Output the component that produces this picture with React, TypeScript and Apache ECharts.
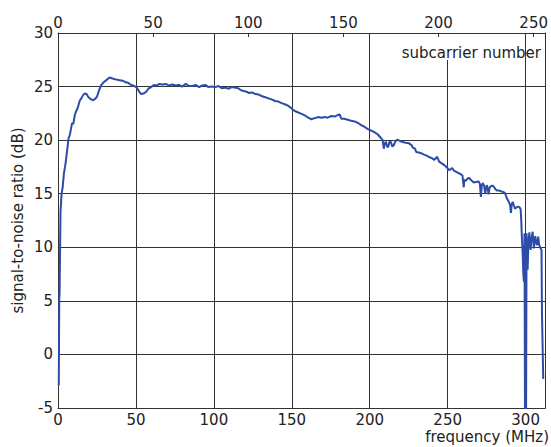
import React, { useEffect, useRef } from "react";
import * as echarts from "echarts";

// frequency (MHz) of each measured point
const freqMHz = [
  0.5, 0.8, 1.0, 1.6, 2.3, 3.0, 3.8, 4.5, 5.1, 6.0, 6.8, 7.6, 8.4, 9.0, 9.8, 10.8, 11.5, 12.6, 14.0, 15.0,
  16.1, 17.2, 18.3, 19.3, 20.8, 22.5, 23.8, 25.0, 26.0, 27.0, 27.8, 29.3, 31.0, 33.1, 35.0, 37.4, 39.5, 41.5, 43.5, 45.0,
  47.0, 49.0, 50.5, 52.0, 53.3, 54.8, 56.5, 58.0, 59.7, 61.5, 63.5, 65.0, 67.0, 69.2, 71.0, 73.4, 75.5, 77.7, 79.5, 82.0,
  84.0, 86.2, 88.5, 90.5, 92.5, 94.7, 96.5, 98.5, 101.0, 103.0, 105.0, 107.4, 109.5, 111.5, 113.8, 115.5, 117.0, 118.5, 120.5, 122.5,
  124.5, 126.6, 128.7, 131.0, 133.0, 135.0, 137.0, 139.3, 141.4, 143.5, 145.5, 147.8, 149.9, 151.0, 153.0, 156.2, 158.5, 160.5, 162.6, 164.5,
  166.9, 169.0, 171.1, 173.0, 175.4, 177.5, 179.6, 180.7, 181.7, 183.5, 186.0, 188.1, 190.3, 192.5, 194.5, 196.6, 198.5, 200.8, 203.0, 205.0,
  207.2, 208.3, 209.0, 209.6, 210.4, 211.2, 211.9, 212.8, 213.6, 214.5, 215.3, 216.5, 217.8, 219.0, 220.5, 223.1, 225.3, 227.0, 227.6, 229.0,
  229.8, 231.5, 233.5, 234.9, 236.5, 238.5, 240.1, 241.5, 243.3, 244.5, 246.0, 247.6, 249.5, 250.8, 252.0, 252.9, 254.0, 256.1, 258.0, 259.5,
  260.3, 260.7, 261.5, 262.4, 263.5, 264.5, 265.5, 266.7, 268.0, 269.9, 270.7, 271.3, 271.9, 272.6, 273.4, 274.1, 274.7, 275.2, 275.7, 276.2,
  276.8, 277.3, 278.3, 279.4, 280.5, 281.5, 283.0, 284.7, 285.8, 286.8, 287.9, 289.0, 290.0, 290.6, 291.1, 291.7, 292.5, 293.2, 294.3, 295.3,
  296.3, 296.8, 297.2, 297.5, 298.1, 298.5, 298.9, 299.3, 299.6, 300.0, 300.3, 300.6, 301.0, 301.3, 301.8, 302.4, 303.2, 303.8, 304.5, 305.3,
  306.2, 306.8, 307.4, 308.1, 308.6, 309.1, 310.2, 310.5, 311.3,
];

// signal-to-noise ratio (dB) at each frequency above
const snrDb = [
  -2.9, 5.3, 5.6, 13.3, 15.0, 15.6, 16.9, 17.5, 18.1, 19.2, 20.2, 20.5, 21.1, 21.6, 21.5, 22.35, 22.65, 23.0, 23.7, 23.9,
  24.2, 24.35, 24.3, 24.05, 23.85, 23.72, 23.85, 24.05, 24.5, 24.9, 25.15, 25.4, 25.6, 25.85, 25.75, 25.65, 25.6, 25.55, 25.4, 25.35,
  25.15, 25.05, 24.9, 24.55, 24.3, 24.35, 24.5, 24.8, 24.95, 25.15, 25.1, 25.25, 25.2, 25.25, 25.1, 25.2, 25.1, 25.15, 25.0, 25.25,
  25.05, 25.05, 25.15, 24.95, 25.1, 25.15, 24.95, 25.0, 24.95, 25.05, 24.85, 24.9, 24.8, 24.95, 24.9, 24.85, 24.7, 24.6, 24.55, 24.4,
  24.45, 24.3, 24.25, 24.1, 24.0, 23.9, 23.8, 23.65, 23.6, 23.45, 23.35, 23.2, 22.95, 22.8, 22.65, 22.45, 22.3, 22.1, 21.95, 22.05,
  22.15, 22.1, 22.15, 22.1, 22.25, 22.2, 22.35, 22.4, 22.0, 22.0, 21.9, 21.8, 21.75, 21.6, 21.4, 21.25, 21.05, 20.9, 20.75, 20.55,
  20.2, 20.0, 19.2, 19.7, 19.85, 19.35, 19.4, 19.9, 19.8, 19.4, 19.5, 19.9, 20.05, 19.95, 19.85, 19.75, 19.7, 19.5, 19.3, 19.2,
  18.9, 18.85, 18.75, 18.65, 18.55, 18.4, 18.3, 18.15, 18.45, 18.0, 17.85, 17.7, 17.45, 17.2, 17.3, 17.4, 17.15, 17.0, 16.85, 16.7,
  15.6, 16.3, 16.2, 16.35, 16.5, 16.35, 16.2, 16.05, 16.1, 16.15, 15.9, 14.7, 15.8, 16.0, 15.7, 15.0, 15.6, 15.8, 15.5, 14.95,
  15.5, 15.65, 15.75, 15.7, 15.45, 15.3, 15.3, 15.2, 15.15, 15.05, 14.6, 14.3, 13.95, 13.2, 14.0, 14.25, 13.9, 13.6, 13.75, 13.8,
  13.7, 13.55, 12.5, 11.3, 9.4, 7.6, 6.8, 11.3, -5.5, 8.0, -5.5, 11.3, 9.5, 7.9, 10.5, 11.4, 9.75, 10.8, 11.45, 9.9,
  11.05, 10.4, 10.2, 11.0, 10.3, 10.05, 9.75, 3.8, -2.3,
];

const freqMin = 0;
const freqMax = 312.5;
const freqStep = 50;
const subcarrierMax = 256;
const subcarrierStep = 50;
const snrMin = -5;
const snrMax = 30;
const snrStep = 5;

const xTitle = "frequency (MHz)";
const yTitle = "signal-to-noise ratio (dB)";
const topTitle = "subcarrier number";

const FONT = "DejaVu Sans";
const TEXT = "#222";
const GRIDC = "#333";

export default function App() {
  const ref = useRef<HTMLDivElement>(null);
  useEffect(() => {
    if (!ref.current) return;
    const chart = echarts.init(ref.current, null, { renderer: "svg" });
    const labelStyle = { color: TEXT, fontFamily: FONT, fontSize: 15 };
    const lineSt = { color: GRIDC, width: 1, type: "solid" as const };
    chart.setOption({
      animation: false,
      backgroundColor: "#fff",
      grid: {
        left: 58,
        top: 33,
        right: 2,
        bottom: 39,
        containLabel: false,
      },
      xAxis: [
        {
          type: "value",
          position: "bottom",
          min: freqMin,
          max: freqMax,
          interval: freqStep,
          axisLine: { show: true, onZero: false, lineStyle: lineSt },
          axisTick: { show: false },
          splitLine: { show: true, lineStyle: lineSt },
          axisLabel: { ...labelStyle, margin: 4, showMaxLabel: false },
        },
        {
          type: "value",
          position: "top",
          min: 0,
          max: subcarrierMax,
          interval: subcarrierStep,
          axisLine: { show: true, onZero: false, lineStyle: lineSt },
          axisTick: { show: true, inside: true, length: 4, lineStyle: lineSt },
          splitLine: { show: false },
          axisLabel: { ...labelStyle, margin: 3, showMaxLabel: false },
        },
      ],
      yAxis: [
        {
          type: "value",
          position: "left",
          min: snrMin,
          max: snrMax,
          interval: snrStep,
          axisLine: { show: true, onZero: false, lineStyle: lineSt },
          axisTick: { show: false },
          splitLine: { show: true, lineStyle: lineSt },
          axisLabel: { ...labelStyle, margin: 5 },
        },
        {
          type: "value",
          position: "right",
          min: snrMin,
          max: snrMax,
          interval: snrStep,
          axisLine: { show: true, onZero: false, lineStyle: lineSt },
          axisTick: { show: false },
          splitLine: { show: false },
          axisLabel: { show: false },
        },
      ],
      graphic: [
        {
          type: "rect",
          z: 50,
          shape: { x: 446, y: 34, width: 9, height: 26 },
          style: { fill: "#fff" },
        },
        {
          type: "text",
          z: 51,
          x: 541,
          y: 53,
          style: {
            text: topTitle,
            fill: TEXT,
            fontFamily: FONT,
            fontSize: 15,
            textAlign: "right",
            textVerticalAlign: "middle",
          },
        },
        {
          type: "text",
          z: 51,
          x: 549,
          y: 437,
          style: {
            text: xTitle,
            fill: TEXT,
            fontFamily: FONT,
            fontSize: 15,
            textAlign: "right",
            textVerticalAlign: "middle",
          },
        },
        {
          type: "text",
          z: 51,
          x: 17.5,
          y: 220.5,
          rotation: Math.PI / 2,
          style: {
            text: yTitle,
            fill: TEXT,
            fontFamily: FONT,
            fontSize: 15,
            textAlign: "center",
            textVerticalAlign: "middle",
          },
        },
      ],
      series: [
        {
          type: "line",
          xAxisIndex: 0,
          yAxisIndex: 0,
          data: freqMHz.map((f, i) => [f, snrDb[i]]),
          showSymbol: false,
          symbol: "none",
          clip: true,
          lineStyle: { color: "#2c4ca8", width: 2 },
          z: 60,
        },
      ],
    });
    return () => chart.dispose();
  }, []);
  return (
    <div
      ref={ref}
      style={{ position: "fixed", left: 0, top: 0, width: 551, height: 447, background: "#fff" }}
    />
  );
}
